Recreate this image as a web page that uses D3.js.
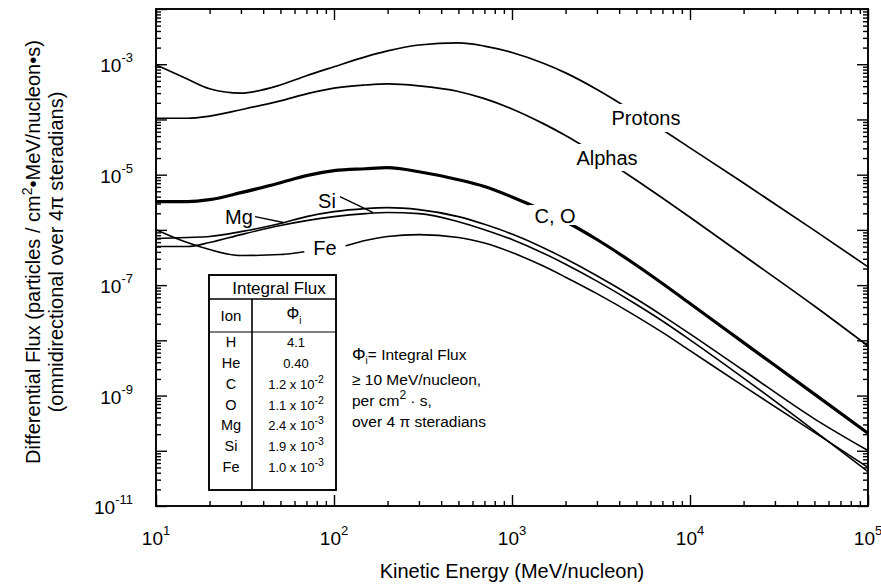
<!DOCTYPE html>
<html><head><meta charset="utf-8">
<script src="https://cdn.jsdelivr.net/npm/d3@7"></script>
<style>
html,body{margin:0;padding:0;background:#fff;}
svg{display:block;font-family:"Liberation Sans",Arial,Helvetica,sans-serif;}
</style></head><body>
<svg id="chart" width="881" height="584"></svg>
<script>
// ---- data ----
const energies = [10,15,20,30,50,70,100,150,200,300,500,700,1000,1500,2000,3000,5000,7000,10000,20000,50000,100000];
const protons = [9.7e-4,5.4e-4,3.6e-4,3.0e-4,4.2e-4,6.2e-4,9.0e-4,1.36e-3,1.74e-3,2.23e-3,2.43e-3,2.13e-3,1.63e-3,1.04e-3,6.97e-4,3.50e-4,1.29e-4,6.5e-5,3.06e-5,7.05e-6,9.8e-7,2.14e-7];
const alphas = [1.05e-4,1.05e-4,1.15e-4,1.5e-4,2.17e-4,2.9e-4,3.7e-4,4.2e-4,4.4e-4,4.05e-4,3.21e-4,2.38e-4,1.55e-4,8.4e-5,5.1e-5,2.31e-5,7.9e-6,3.78e-6,1.69e-6,3.44e-7,4.18e-8,7.9e-9];
const carbonOxygen = [3.25e-6,3.25e-6,3.53e-6,4.72e-6,7.16e-6,9.6e-6,1.18e-5,1.28e-5,1.34e-5,1.13e-5,8.1e-6,6.1e-6,3.95e-6,2.24e-6,1.42e-6,6.7e-7,2.29e-7,1.07e-7,4.64e-8,9.1e-9,1.06e-9,2.07e-10];
const magnesium = [6.97e-7,7.3e-7,7.6e-7,9.3e-7,1.30e-6,1.74e-6,2.14e-6,2.43e-6,2.53e-6,2.33e-6,1.74e-6,1.26e-6,8.4e-7,4.76e-7,3.0e-7,1.48e-7,5.6e-8,2.81e-8,1.31e-8,2.84e-9,3.79e-10,1.01e-10];
const silicon = [5.0e-7,5.0e-7,5.9e-7,8.2e-7,1.20e-6,1.47e-6,1.74e-6,1.97e-6,2.06e-6,1.97e-6,1.41e-6,1.01e-6,6.7e-7,3.79e-7,2.39e-7,1.18e-7,4.46e-8,2.24e-8,1.02e-8,2.07e-9,2.30e-10,4.2e-11];
const iron = [1.01e-6,5.9e-7,4.41e-7,3.43e-7,3.58e-7,4.06e-7,4.6e-7,6.4e-7,7.6e-7,8.2e-7,7.3e-7,5.77e-7,3.89e-7,2.21e-7,1.39e-7,7.0e-8,2.72e-8,1.39e-8,6.5e-9,1.48e-9,2.15e-10,5.0e-11];

const xTickExponents = [1,2,3,4,5];
const yTickExponents = [-3,-5,-7,-9,-11];

const tableIons = ["H","He","C","O","Mg","Si","Fe"];
const tableMantissa = ["4.1","0.40","1.2","1.1","2.4","1.9","1.0"];
const tableExponent = [null,null,-2,-2,-3,-3,-3];

// ---- layout ----
const svg = d3.select("#chart");
const L = 156, R = 868, T = 9, B = 506;
const x = d3.scaleLog().domain([10, 1e5]).range([L, R]);
const y = d3.scaleLog().domain([1e-11, 1e-2]).range([B, T]);

const series = [
  {name:"Protons", values: protons, width:1.7},
  {name:"Alphas", values: alphas, width:1.7},
  {name:"C, O", values: carbonOxygen, width:3.2},
  {name:"Mg", values: magnesium, width:1.6},
  {name:"Si", values: silicon, width:1.6},
  {name:"Fe", values: iron, width:1.6}
];

const line = d3.line().x(d => x(d[0])).y(d => y(d[1])).curve(d3.curveMonotoneX);

const curves = svg.append("g");
series.forEach(s => {
  curves.append("path")
    .attr("d", line(energies.map((e,i) => [e, s.values[i]])))
    .attr("fill","none").attr("stroke","#000")
    .attr("stroke-width", s.width).attr("stroke-linejoin","round");
});

// ---- ticks (inward, all four sides) ----
const allTicks = x.ticks();
const isDecade = v => Math.abs(Math.log10(v) - Math.round(Math.log10(v))) < 1e-9;
const xMajor = allTicks.filter(isDecade);
const xMinor = allTicks.filter(v => !isDecade(v));
const yAll = y.ticks();
const yMajor = yAll.filter(isDecade);
const yMinor = yAll.filter(v => !isDecade(v));

function axisG(axis, tr){
  const g = svg.append("g").attr("transform", tr).call(axis);
  g.select(".domain").remove();
  g.selectAll("line").attr("stroke","#000").attr("stroke-width",1.4);
  g.selectAll("text").remove();
  return g;
}
axisG(d3.axisBottom(x).tickValues(xMajor).tickSize(-11).tickFormat(""), `translate(0,${B})`);
axisG(d3.axisBottom(x).tickValues(xMinor).tickSize(-5).tickFormat(""), `translate(0,${B})`);
axisG(d3.axisTop(x).tickValues(xMajor).tickSize(-11).tickFormat(""), `translate(0,${T})`);
axisG(d3.axisTop(x).tickValues(xMinor).tickSize(-5).tickFormat(""), `translate(0,${T})`);
axisG(d3.axisLeft(y).tickValues(yMajor).tickSize(-11).tickFormat(""), `translate(${L},0)`);
axisG(d3.axisLeft(y).tickValues(yMinor).tickSize(-5).tickFormat(""), `translate(${L},0)`);
axisG(d3.axisRight(y).tickValues(yMajor).tickSize(-11).tickFormat(""), `translate(${R},0)`);
axisG(d3.axisRight(y).tickValues(yMinor).tickSize(-5).tickFormat(""), `translate(${R},0)`);

svg.append("rect").attr("x",L).attr("y",T).attr("width",R-L).attr("height",B-T)
  .attr("fill","none").attr("stroke","#000").attr("stroke-width",1.9);

// ---- tick labels ----
xTickExponents.forEach(e => {
  const t = svg.append("text").attr("x", x(Math.pow(10,e))).attr("y", 545)
    .attr("text-anchor","middle").attr("font-size",19);
  t.append("tspan").text("10");
  t.append("tspan").attr("font-size",13).attr("dy",-10).text(e);
});
yTickExponents.forEach(e => {
  const t = svg.append("text").attr("x", 133).attr("y", y(Math.pow(10,e)) + 8)
    .attr("text-anchor","end").attr("font-size",19);
  t.append("tspan").text("10");
  t.append("tspan").attr("font-size",13).attr("dy",-10).text("-" + Math.abs(e));
});

// ---- axis titles ----
svg.append("text").attr("x",(L+R)/2).attr("y",578).attr("text-anchor","middle")
  .attr("font-size",20).text("Kinetic Energy (MeV/nucleon)");
const yt1 = svg.append("text").attr("transform","translate(40,252) rotate(-90)")
  .attr("text-anchor","middle").attr("font-size",20);
yt1.append("tspan").text("Differential Flux (particles / cm");
yt1.append("tspan").attr("font-size",14).attr("dy",-8).text("2");
yt1.append("tspan").attr("dy",8).text("\u2022MeV/nucleon\u2022s)");
svg.append("text").attr("transform","translate(63,252) rotate(-90)")
  .attr("text-anchor","middle").attr("font-size",20)
  .text("(omnidirectional over 4\u03c0 steradians)");

// ---- curve labels (with white gap behind) ----
const curveLabels = [
  {text:"Protons", cx:646, by:125, pad:[4,3,3]},
  {text:"Alphas", cx:607, by:165, pad:[4,3,2]},
  {text:"C, O", cx:555, by:223, pad:[6,0,-2]},
  {text:"Fe", cx:325, by:255, pad:[9,-2,-2]},
  {text:"Mg", cx:239, by:224, pad:null},
  {text:"Si", cx:327, by:208, pad:null}
];
curveLabels.forEach(l => {
  const g = svg.append("g");
  const t = g.append("text").attr("x",l.cx).attr("y",l.by).attr("text-anchor","middle")
    .attr("font-size",20).text(l.text);
  if (l.pad){
    const bb = t.node().getBBox();
    g.insert("rect","text").attr("x",bb.x-l.pad[0]).attr("y",bb.y-l.pad[1])
      .attr("width",bb.width+2*l.pad[0]).attr("height",bb.height+l.pad[1]+l.pad[2])
      .attr("fill","#fff");
  }
});
// leader lines (data coordinates)
const leaders = [
  [[36,1.74e-6],[52,1.36e-6]],
  [[108,4.0e-6],[166,2.06e-6]]
];
leaders.forEach(p => {
  svg.append("line").attr("x1",x(p[0][0])).attr("y1",y(p[0][1]))
    .attr("x2",x(p[1][0])).attr("y2",y(p[1][1]))
    .attr("stroke","#000").attr("stroke-width",1.4);
});

// ---- table ----
const tb = svg.append("g");
const tL = 209, tR = 336, tT = 275, tB = 490, tH1 = 299, tH2 = 332, tV = 252;
tb.append("rect").attr("x",tL).attr("y",tT).attr("width",tR-tL).attr("height",tB-tT)
  .attr("fill","#fff").attr("stroke","#000").attr("stroke-width",1.9);
tb.append("line").attr("x1",tL).attr("x2",tR).attr("y1",tH1).attr("y2",tH1).attr("stroke","#000").attr("stroke-width",1.6);
tb.append("line").attr("x1",tL).attr("x2",tR).attr("y1",tH2).attr("y2",tH2).attr("stroke","#000").attr("stroke-width",1.2);
tb.append("line").attr("x1",tV).attr("x2",tV).attr("y1",tH1).attr("y2",tB).attr("stroke","#000").attr("stroke-width",1.6);
tb.append("text").attr("x",279).attr("y",294).attr("text-anchor","middle").attr("font-size",17).text("Integral Flux");
tb.append("text").attr("x",231).attr("y",321).attr("text-anchor","middle").attr("font-size",15).text("Ion");
const phi = tb.append("text").attr("x",294).attr("y",319).attr("text-anchor","middle").attr("font-size",16);
phi.append("tspan").text("\u03a6");
phi.append("tspan").attr("font-size",10).attr("dy",5).text("i");
const rowY = d3.scalePoint().domain(tableIons).range([347, 472]);
tableIons.forEach((ion,i) => {
  tb.append("text").attr("x",231).attr("y",rowY(ion)).attr("text-anchor","middle").attr("font-size",14.5).text(ion);
  const v = tb.append("text").attr("x",296).attr("y",rowY(ion)).attr("text-anchor","middle").attr("font-size",13);
  if (tableExponent[i] === null) { v.text(tableMantissa[i]); }
  else {
    v.append("tspan").text(tableMantissa[i] + " x 10");
    v.append("tspan").attr("font-size",10.5).attr("dy",-6).text(tableExponent[i]);
  }
});

// ---- annotation ----
const ann = svg.append("g").attr("font-size",15.5);
const a1 = ann.append("text").attr("x",352).attr("y",360);
a1.append("tspan").attr("font-size",17).text("\u03a6");
a1.append("tspan").attr("font-size",10).attr("dy",4).text("i");
a1.append("tspan").attr("dy",-4).text("= Integral Flux");
ann.append("text").attr("x",352).attr("y",385).text("\u2265 10 MeV/nucleon,");
const a3 = ann.append("text").attr("x",352).attr("y",406);
a3.append("tspan").text("per cm");
a3.append("tspan").attr("font-size",12).attr("dy",-7).text("2");
a3.append("tspan").attr("dy",7).text(" \u00b7 s,");
ann.append("text").attr("x",352).attr("y",427).text("over 4 \u03c0 steradians");
</script>
</body></html>
